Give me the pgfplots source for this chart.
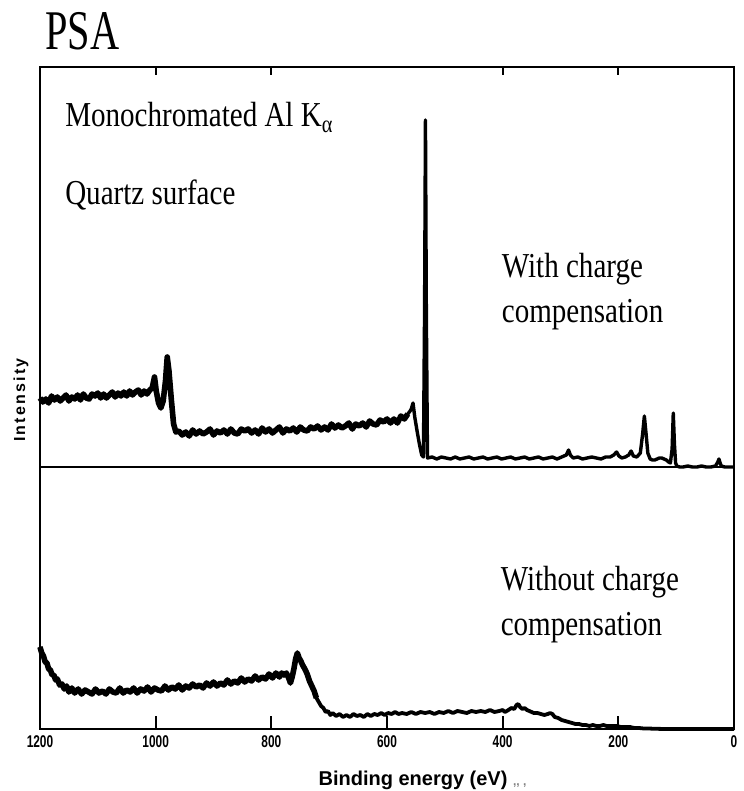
\documentclass[border=0pt]{standalone}
\usepackage{fontspec}
\setmainfont{Liberation Serif}
\newfontfamily\txtfont{Liberation Serif}[FakeStretch=0.83]
\newfontfamily\psafont{Liberation Serif}[FakeStretch=0.72]
\newfontfamily\lblfont{Liberation Sans}
\newfontfamily\tickfont{Liberation Sans}[FakeStretch=0.7]
\newfontfamily\ylblfont{Liberation Sans}[LetterSpace=14]
\usepackage{pgfplots}
\pgfplotsset{compat=1.18}

% y values are in picture pixels above the lower frame; x in eV
\pgfplotstableread{
x y
1200 331
1195 327
1190 330
1185 326
1180 333
1175 329
1170 332
1165 328
1160 331
1155 334
1150 328
1145 332
1140 330
1135 334
1130 329
1125 335
1120 331
1115 330
1110 335
1105 333
1100 336
1095 331
1090 335
1085 331
1080 334
1075 337
1070 332
1065 336
1060 333
1055 337
1050 333
1045 338
1040 334
1035 337
1030 339
1025 334
1020 338
1015 335
1010 339
1006 341
1002 352
999 338
995 326
991 321
987 328
983 348
980 372
977 358
973 330
969 305
965 297
960 298
954 294
948 297
942 293
936 299
930 295
924 298
918 295
912 297
906 300
900 294
894 298
888 296
882 299
876 295
870 300
864 296
858 295
852 300
846 298
840 300
834 296
828 299
822 295
816 301
810 297
804 300
798 296
792 299
786 302
780 296
774 300
768 298
762 301
756 297
750 302
744 299
738 298
732 302
726 300
720 303
714 299
708 302
702 299
696 305
690 301
684 304
678 301
672 303
666 306
660 300
654 305
648 303
642 306
636 302
630 308
624 305
618 304
612 309
606 307
600 310
594 306
588 310
582 306
576 313
570 310
564 315
560 318
558 320
555 326
552 312
548 298
544 285
540 274
537 272
535 420
533.5 609
532 420
530 271
522 272
514 270
506 272
498 271
490 270
482 272
474 270
466 271
458 272
450 270
442 271
434 272
426 270
418 271
410 272
402 270
394 271
386 272
378 270
370 271
362 272
354 270
346 271
338 272
330 270
322 271
314 272
306 270
298 272
290 274
286 279
283 274
278 271
270 272
262 270
254 271
246 272
238 271
230 270
222 272
214 272
208 274
203 277
199 273
194 271
188 272
182 274
178 278
174 273
168 272
162 276
158 295
155 313
152 295
149 276
145 270
141 269
137 269
133 270
129 271
125 271
121 270
117 269
113 267
110 266
107 280
105 316
103 285
101 266
99 263
94 262
88 262
80 263
72 262
64 262
56 263
48 262
40 262
32 263
28 267
26 270
24 266
22 263
16 262
8 262
0 262
}\withcomp

\pgfplotstableread{
x y
1200 82
1197 76
1194 73
1191 67
1188 66
1185 60
1182 59
1179 54
1176 54
1173 49
1170 50
1166 44
1162 45
1158 40
1154 43
1150 37
1145 41
1140 36
1134 40
1128 35
1122 39
1116 37
1110 35
1104 40
1098 36
1092 38
1086 35
1080 40
1074 37
1068 36
1062 41
1056 36
1050 39
1044 37
1038 41
1032 36
1026 40
1020 38
1014 42
1008 37
1002 41
996 39
990 38
984 43
978 39
972 42
966 40
960 44
954 39
948 43
942 41
936 45
930 42
924 44
918 41
912 46
906 43
900 47
894 43
888 46
882 44
876 49
870 45
864 48
858 46
852 51
846 47
840 50
834 48
828 53
822 49
816 52
810 50
804 55
798 51
792 56
786 52
782 56
778 54
774 56
770 51
767 46
764 52
761 60
758 70
755 76
752 71
749 68
746 64
742 60
738 55
734 48
730 43
726 38
722 31
718 27
714 23
710 21
706 17
702 18
698 14
694 16
688 13
682 15
676 12
670 14
664 12
658 15
652 13
646 14
640 12
634 15
628 13
622 15
616 14
610 16
604 14
598 16
592 15
586 17
580 15
574 16
566 15
558 17
550 15
542 17
534 16
526 17
518 15
510 17
502 16
494 18
486 16
478 18
470 17
462 16
454 18
446 17
438 18
430 17
422 19
414 17
406 18
400 19
396 17
390 19
385 21
380 20
376 24
373 25
370 22
366 20
362 21
358 19
354 18
350 17
346 16
340 16
334 15
328 14
322 15
318 16
314 15
310 12
304 11
298 9
292 8
286 7
280 6
274 5
268 5
262 4
256 4
250 3
244 4
238 3
232 3
226 4
220 3
214 3
208 3
202 3
196 2
188 2
180 2
172 1
164 1
156 0.5
148 0.5
140 0.3
120 0
0 0
}\withoutcomp

\begin{document}
\begin{tikzpicture}
\begin{axis}[name=ax, at={(0,0)}, anchor=south west,
  scale only axis, width=347pt, height=331pt,
  xmin=0, xmax=1200, ymin=0, ymax=662, x dir=reverse, clip=false,
  axis line style={line width=1pt},
  xtick={0,200,...,1200}, xtick pos=left, tick align=inside,
  major tick length=6.5pt, tick style={black, line width=0.9pt},
  ytick=\empty,
  extra y ticks={262}, extra y tick labels={},
  extra y tick style={grid=major, major grid style={black, line width=1pt}, major tick length=0pt},
  xticklabel style={font=\tickfont\bfseries\fontsize{8.5}{10}\selectfont},
  /pgf/number format/assume math mode=true,
  /pgf/number format/1000 sep={}]
 % with charge compensation
 \addplot[black, line width=1.7pt, line join=round] table[x=x, y=y] {\withcomp};
 \addplot[black, line width=2.8pt, line join=round, restrict x to domain=562:1200] table[x=x, y=y] {\withcomp};
 % without charge compensation
 \addplot[black, line width=1.9pt, line join=round] table[x=x, y=y] {\withoutcomp};
 \addplot[black, line width=2.8pt, line join=round, restrict x to domain=720:1200] table[x=x, y=y] {\withoutcomp};

 \node[anchor=base west, inner sep=0] at (axis cs:1191.4,679) {\psafont\fontsize{28}{30}\selectfont PSA};
 \node[anchor=base west, inner sep=0] at (axis cs:1157,602) {\txtfont\fontsize{17.5}{20}\selectfont Monochromated Al K\textsubscript{α}};
 \node[anchor=base west, inner sep=0] at (axis cs:1157,524) {\txtfont\fontsize{17.5}{20}\selectfont Quartz surface};
 \node[anchor=base west, inner sep=0] at (axis cs:402,451) {\txtfont\fontsize{17.5}{20}\selectfont With charge};
 \node[anchor=base west, inner sep=0] at (axis cs:402,406) {\txtfont\fontsize{17.5}{20}\selectfont compensation};
 \node[anchor=base west, inner sep=0] at (axis cs:404,138) {\txtfont\fontsize{17.5}{20}\selectfont Without charge};
 \node[anchor=base west, inner sep=0] at (axis cs:404,94) {\txtfont\fontsize{17.5}{20}\selectfont compensation};
 \node[rotate=90, anchor=center] at (axis cs:1233,329) {\ylblfont\bfseries\fontsize{8}{10}\selectfont Intensity};
 \node[anchor=base west, inner sep=0] at (axis cs:719,-56) {\lblfont\bfseries\fontsize{10}{12}\selectfont Binding energy (eV)\ \textcolor{gray}{\fontsize{6}{7}\selectfont ,, ,}};
\end{axis}
\begin{axis}[at={(0,0)}, anchor=south west,
  scale only axis, width=347pt, height=331pt,
  xmin=0, xmax=1200, ymin=0, ymax=662, x dir=reverse,
  axis line style={draw=none},
  xtick={200,400,800,1000}, xticklabels={}, xtick pos=right,
  ytick=\empty, tick align=inside, major tick length=4pt,
  tick style={black, line width=0.9pt}]
\end{axis}
\path (ax.south west) ++(-20pt,-31pt) coordinate (bl);
\path (ax.north east) ++(2.5pt,33.5pt) coordinate (tr);
\path (bl) rectangle (tr);
\end{tikzpicture}
\end{document}
